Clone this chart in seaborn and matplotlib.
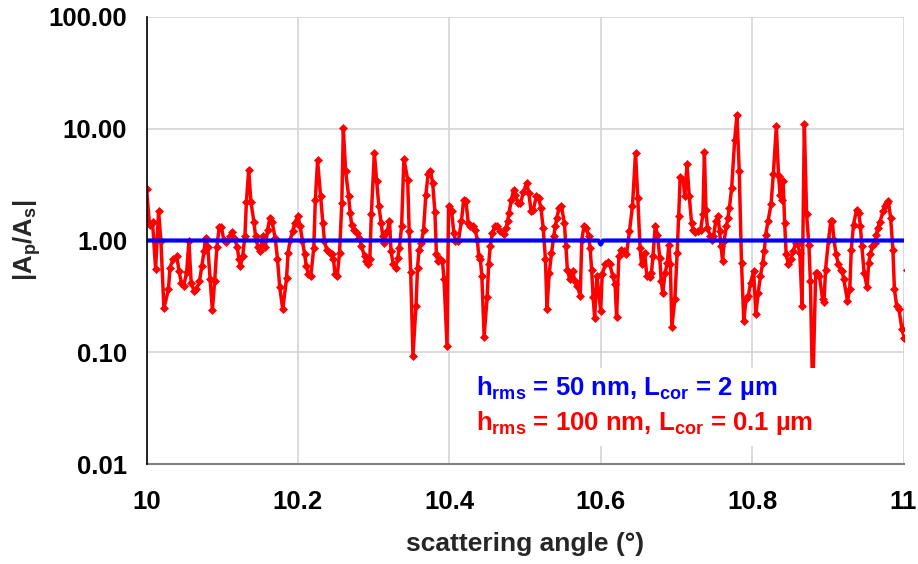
import numpy as np
import pandas as pd
import matplotlib
matplotlib.use("Agg")
import matplotlib.pyplot as plt
import seaborn as sns
from matplotlib.patches import Rectangle
from matplotlib.ticker import FixedLocator, FuncFormatter

# ---- data ----
red_angle = [
    10.000, 10.004, 10.008, 10.012, 10.016, 10.019, 10.023, 10.029, 10.031, 10.035,
    10.040, 10.043, 10.046, 10.049, 10.053, 10.056, 10.059, 10.063, 10.066, 10.070,
    10.073, 10.076, 10.078, 10.081, 10.084, 10.087, 10.090, 10.093, 10.096, 10.099,
    10.102, 10.105, 10.110, 10.113, 10.116, 10.120, 10.122, 10.124, 10.127, 10.130,
    10.132, 10.135, 10.138, 10.142, 10.144, 10.147, 10.150, 10.154, 10.157, 10.160,
    10.163, 10.166, 10.170, 10.173, 10.176, 10.180, 10.185, 10.187, 10.190, 10.193,
    10.196, 10.200, 10.203, 10.206, 10.209, 10.211, 10.214, 10.217, 10.221, 10.223,
    10.226, 10.230, 10.233, 10.235, 10.238, 10.242, 10.245, 10.247, 10.249, 10.252,
    10.255, 10.258, 10.260, 10.263, 10.267, 10.269, 10.271, 10.274, 10.278, 10.281,
    10.284, 10.288, 10.290, 10.293, 10.295, 10.297, 10.301, 10.304, 10.307, 10.310,
    10.312, 10.314, 10.318, 10.321, 10.323, 10.326, 10.329, 10.332, 10.334, 10.337,
    10.340, 10.345, 10.347, 10.349, 10.352, 10.356, 10.358, 10.360, 10.363, 10.366,
    10.369, 10.372, 10.375, 10.378, 10.381, 10.383, 10.385, 10.388, 10.391, 10.393,
    10.397, 10.399, 10.403, 10.406, 10.408, 10.412, 10.416, 10.419, 10.422, 10.425,
    10.428, 10.431, 10.434, 10.437, 10.439, 10.441, 10.443, 10.446, 10.450, 10.452,
    10.454, 10.457, 10.460, 10.463, 10.467, 10.472, 10.475, 10.477, 10.479, 10.482,
    10.485, 10.487, 10.491, 10.494, 10.498, 10.502, 10.505, 10.508, 10.511, 10.515,
    10.518, 10.521, 10.524, 10.527, 10.529, 10.532, 10.535, 10.538, 10.540, 10.542,
    10.545, 10.548, 10.552, 10.554, 10.556, 10.559, 10.563, 10.566, 10.569, 10.573,
    10.575, 10.578, 10.581, 10.584, 10.586, 10.588, 10.590, 10.592, 10.595, 10.600,
    10.602, 10.606, 10.609, 10.612, 10.616, 10.619, 10.621, 10.624, 10.627, 10.631,
    10.634, 10.638, 10.642, 10.646, 10.649, 10.652, 10.654, 10.658, 10.661, 10.665,
    10.667, 10.669, 10.672, 10.675, 10.678, 10.680, 10.682, 10.685, 10.688, 10.690,
    10.692, 10.694, 10.698, 10.701, 10.703, 10.705, 10.709, 10.711, 10.714, 10.717,
    10.720, 10.722, 10.725, 10.728, 10.732, 10.735, 10.737, 10.739, 10.741, 10.745,
    10.747, 10.749, 10.752, 10.755, 10.757, 10.759, 10.761, 10.763, 10.766, 10.768,
    10.770, 10.773, 10.777, 10.780, 10.783, 10.786, 10.789, 10.792, 10.795, 10.798,
    10.802, 10.805, 10.808, 10.811, 10.814, 10.816, 10.818, 10.821, 10.825, 10.828,
    10.832, 10.835, 10.837, 10.839, 10.841, 10.843, 10.845, 10.848, 10.851, 10.854,
    10.858, 10.860, 10.863, 10.866, 10.869, 10.872, 10.875, 10.877, 10.880, 10.884,
    10.886, 10.889, 10.893, 10.895, 10.897, 10.901, 10.904, 10.906, 10.908, 10.911,
    10.914, 10.917, 10.919, 10.921, 10.926, 10.929, 10.931, 10.934, 10.938, 10.941,
    10.943, 10.945, 10.948, 10.952, 10.954, 10.956, 10.959, 10.962, 10.964, 10.966,
    10.969, 10.973, 10.975, 10.978, 10.980, 10.983, 10.986, 10.988, 10.991, 10.994,
    10.998, 11.001, 11.005,
]
red_ratio = [
    2.9, 1.39, 1.45, 0.56, 1.82, 1.0, 0.247, 0.365, 0.57, 0.68,
    0.72, 0.53, 0.42, 0.39, 0.52, 0.98, 0.42, 0.35, 0.365, 0.43,
    0.59, 0.80, 1.06, 0.87, 0.45, 0.237, 0.43, 0.88, 1.31, 1.31,
    1.02, 0.96, 1.09, 1.18, 1.06, 0.87, 0.68, 0.59, 0.72, 1.09,
    2.23, 4.3, 2.2, 1.45, 1.09, 0.88, 0.80, 1.09, 0.88, 1.25,
    1.6, 1.45, 1.05, 0.69, 0.38, 0.242, 0.46, 0.78, 1.02, 1.21,
    1.44, 1.65, 1.34, 0.99, 0.75, 0.59, 0.50, 0.48, 0.86, 2.32,
    5.2, 2.49, 1.44, 0.99, 0.83, 0.78, 0.75, 0.68, 0.50, 0.48,
    0.78, 2.17, 10.1, 4.2, 2.49, 1.77, 1.39, 1.25, 1.17, 1.06,
    0.89, 0.72, 0.65, 0.61, 0.68, 1.71, 6.1, 3.4, 2.02, 1.44,
    1.09, 0.95, 1.21, 1.49, 0.80, 0.61, 0.57, 0.70, 0.86, 1.34,
    5.4, 3.5, 1.21, 0.52, 0.093, 0.26, 0.57, 0.83, 0.95, 1.25,
    2.57, 3.9, 4.2, 3.3, 1.79, 0.75, 0.65, 0.68, 0.65, 0.45,
    0.114, 2.02, 1.83, 1.17, 0.99, 0.99, 1.49, 2.32, 2.24, 1.44,
    1.36, 1.34, 1.25, 1.02, 0.72, 0.68, 0.48, 0.138, 0.31, 0.61,
    0.89, 1.17, 1.34, 1.35, 1.21, 1.15, 1.30, 1.49, 1.77, 2.32,
    2.85, 2.57, 2.17, 2.17, 2.7, 3.3, 2.67, 1.83, 1.89, 2.49,
    2.40, 1.96, 1.30, 0.68, 0.245, 0.51, 0.77, 1.09, 1.34, 1.59,
    1.96, 2.05, 1.44, 0.89, 0.55, 0.45, 0.53, 0.43, 0.39, 0.32,
    1.02, 1.34, 1.30, 1.09, 0.86, 0.55, 0.31, 0.204, 0.48, 0.234,
    0.50, 0.61, 0.64, 0.61, 0.48, 0.405, 0.208, 0.72, 0.82, 0.80,
    0.75, 1.21, 2.05, 6.1, 2.40, 0.86, 0.61, 0.78, 0.48, 0.47,
    0.51, 0.72, 1.34, 1.13, 0.70, 0.43, 0.34, 0.51, 0.63, 0.92,
    0.61, 0.168, 0.30, 0.78, 1.65, 3.7, 3.5, 2.49, 4.8, 2.49,
    1.44, 1.25, 1.19, 1.21, 1.25, 1.71, 6.2, 1.89, 1.30, 1.09,
    1.02, 1.09, 1.49, 1.65, 1.21, 0.89, 0.65, 0.99, 1.34, 1.59,
    1.96, 2.95, 8.0, 13.3, 4.2, 0.63, 0.19, 0.30, 0.32, 0.42,
    0.53, 0.22, 0.34, 0.48, 0.63, 0.80, 1.13, 1.49, 2.10, 3.9,
    10.5, 3.75, 2.57, 2.32, 3.4, 1.44, 0.75, 0.61, 0.68, 0.80,
    0.95, 0.93, 0.78, 0.26, 11.1, 1.71, 0.92, 0.43, 0.04, 0.51,
    0.51, 0.48, 0.30, 0.28, 0.55, 1.02, 1.49, 1.49, 1.02, 0.75,
    0.61, 0.55, 0.53, 0.45, 0.29, 0.365, 0.83, 1.39, 1.89, 1.77,
    1.36, 0.89, 0.51, 0.38, 0.63, 0.75, 0.89, 0.95, 1.13, 1.30,
    1.47, 1.83, 2.05, 2.17, 2.24, 1.59, 0.83, 0.365, 0.26, 0.242,
    0.16, 0.135, 0.55,
]
blue_angle = [10.0, 10.2, 10.4, 10.597, 10.600, 10.603, 10.8, 11.0]
blue_ratio = [1.0, 1.0, 1.0, 1.0, 0.92, 1.0, 1.0, 1.0]

x_ticks = [10, 10.2, 10.4, 10.6, 10.8, 11]
x_ticklabels = ["10", "10.2", "10.4", "10.6", "10.8", "11"]
y_ticks = [0.01, 0.1, 1, 10, 100]

legend_blue = "h$_{\\mathbf{rms}}$ = 50 nm, L$_{\\mathbf{cor}}$ = 2 µm"
legend_red = "h$_{\\mathbf{rms}}$ = 100 nm, L$_{\\mathbf{cor}}$ = 0.1 µm"

# ---- style ----
sns.set_style("white")
plt.rcParams["font.family"] = ["Liberation Sans", "DejaVu Sans"]
plt.rcParams["mathtext.fontset"] = "custom"
plt.rcParams["mathtext.rm"] = "Liberation Sans:bold"
plt.rcParams["mathtext.bf"] = "Liberation Sans:bold"
plt.rcParams["mathtext.it"] = "Liberation Sans:bold"

FS = 18.5

fig = plt.figure(figsize=(9.18, 5.64), dpi=100)
ax = fig.add_axes([146.5 / 918, 1 - 464 / 564, 757 / 918, 447 / 564])

red_df = pd.DataFrame({"angle": red_angle, "ratio": red_ratio})
blue_df = pd.DataFrame({"angle": blue_angle, "ratio": blue_ratio})

sns.lineplot(data=red_df, x="angle", y="ratio", ax=ax, color="#FF0000",
             linewidth=2.5, marker="D", markersize=3.6, markeredgecolor="#FF0000",
             markeredgewidth=0.5, estimator=None, sort=False, zorder=3)
sns.lineplot(data=blue_df, x="angle", y="ratio", ax=ax, color="#0000FF",
             linewidth=3.0, estimator=None, sort=False, zorder=4)

ax.set_yscale("log")
ax.set_xlim(10, 11)
ax.set_ylim(0.01, 100)

ax.xaxis.set_major_locator(FixedLocator(x_ticks))
ax.set_xticklabels(x_ticklabels)
ax.yaxis.set_major_locator(FixedLocator(y_ticks))
ax.yaxis.set_minor_locator(FixedLocator([]))
ax.yaxis.set_major_formatter(FuncFormatter(lambda v, p: f"{v:.2f}"))

ax.grid(True, which="major", color="#d4d4d4", linewidth=1.2)
ax.set_axisbelow(True)

for s in ["top", "right"]:
    ax.spines[s].set_visible(False)
ax.spines["left"].set_color("black")
ax.spines["left"].set_linewidth(1.2)
ax.spines["bottom"].set_color("#808080")
ax.spines["bottom"].set_linewidth(1.5)
ax.spines["left"].set_zorder(5)

ax.tick_params(axis="both", which="major", direction="out", length=7, width=1.3,
               color="#808080", labelsize=FS, labelcolor="black")
ax.tick_params(axis="x", pad=12)
ax.tick_params(axis="y", pad=7)
for lab in ax.get_xticklabels() + ax.get_yticklabels():
    lab.set_fontweight("bold")

ax.set_xlabel("scattering angle (°)", fontsize=FS + 0.5, fontweight="bold", labelpad=13)
ax.set_ylabel("|A$_{\\mathbf{p}}$/A$_{\\mathbf{s}}$|", fontsize=FS, fontweight="bold", labelpad=4)

# white box behind the annotation text (as in the reference)
ax.add_patch(Rectangle((0.428, 0.04), 0.48, 0.175, transform=ax.transAxes,
                       facecolor="white", edgecolor="none", zorder=6))
ax.text(0.435, 0.170, legend_blue, transform=ax.transAxes, color="#0000FF",
        fontsize=FS, fontweight="bold", va="center", ha="left", zorder=7)
ax.text(0.435, 0.092, legend_red, transform=ax.transAxes, color="#FF0000",
        fontsize=FS, fontweight="bold", va="center", ha="left", zorder=7)

fig.savefig("out.png", dpi=100)
